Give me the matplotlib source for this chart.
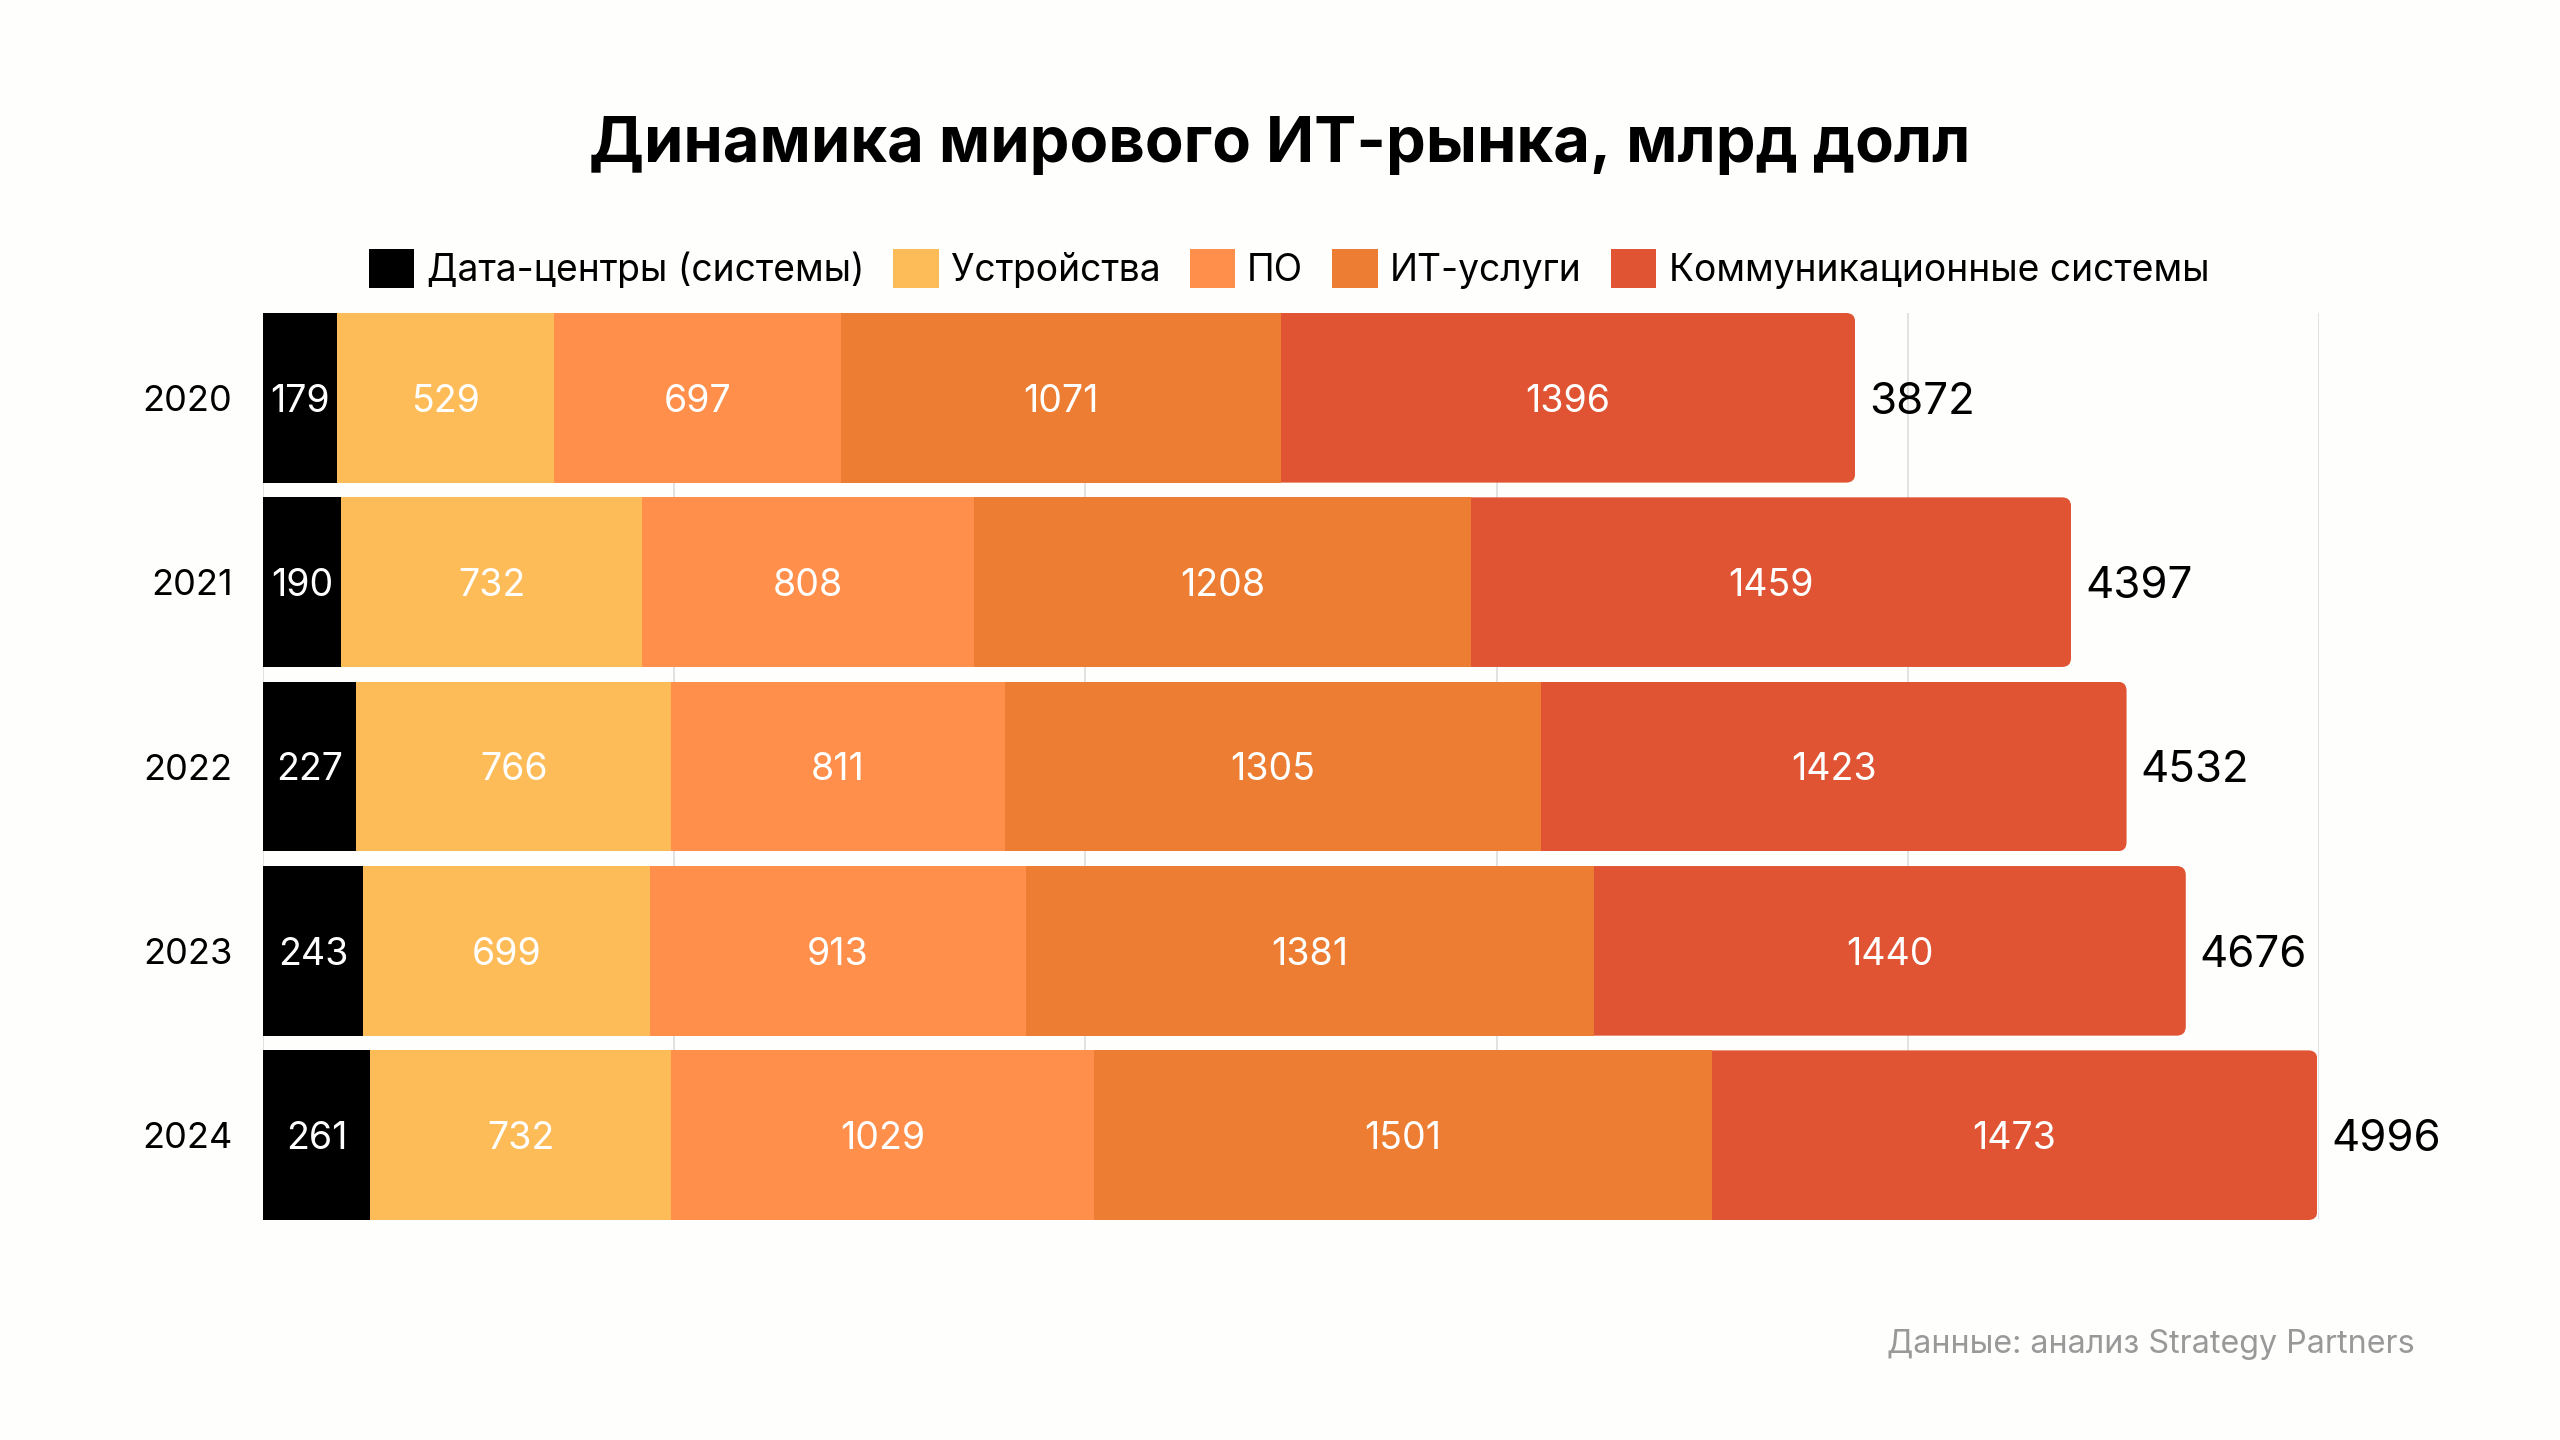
import matplotlib
matplotlib.use("Agg")
import matplotlib.pyplot as plt
from matplotlib.patches import FancyBboxPatch, Patch
import numpy as np

plt.rcParams['font.family'] = ['Inter', 'DejaVu Sans']

years = ["2020", "2021", "2022", "2023", "2024"]
series_names = ["Дата-центры (системы)", "Устройства", "ПО", "ИТ-услуги", "Коммуникационные системы"]
data_centers = [179, 190, 227, 243, 261]
devices = [529, 732, 766, 699, 732]
software = [697, 808, 811, 913, 1029]
it_services = [1071, 1208, 1305, 1381, 1501]
communications = [1396, 1459, 1423, 1440, 1473]
colors = ["#000000", "#FEBC59", "#FF8F4A", "#ED7D32", "#E05333"]

title = "Динамика мирового ИТ-рынка, млрд долл"
source = "Данные: анализ Strategy Partners"

W, H = 2560, 1440
bg = "#FEFEFD"
fig = plt.figure(figsize=(W / 100, H / 100), dpi=100, facecolor=bg)

ax_l, ax_r, ax_t, ax_b = 263, 2319, 313, 1220
ax = fig.add_axes([ax_l / W, 1 - ax_b / H, (ax_r - ax_l) / W, (ax_b - ax_t) / H])
ax.set_facecolor(bg)

bar_h = 0.92
y = np.arange(len(years))
xmax = 5000
ax.set_xlim(0, xmax)
ax.set_ylim(len(years) - 1 + bar_h / 2, -bar_h / 2)

all_series = [data_centers, devices, software, it_services, communications]
lefts = np.zeros(len(years))
containers = []
for vals, col in zip(all_series, colors):
    c = ax.barh(y, vals, left=lefts, height=bar_h, color=col, edgecolor='none', zorder=2)
    containers.append(c)
    texts = ax.bar_label(c, labels=[str(v) for v in vals], label_type='center',
                         color='white', fontsize=27, zorder=3)
    for t in texts:
        t.set_va('center_baseline')
    lefts = lefts + np.array(vals)
totals = lefts

# rounded right corners on the last segment
xu_per_px = xmax / (ax_r - ax_l)
yu_per_px = (len(years) - 1 + bar_h) / (ax_b - ax_t)
asp = yu_per_px / xu_per_px
r = 9 * xu_per_px
for i, rect in enumerate(containers[-1]):
    clip = FancyBboxPatch((0, y[i] - bar_h / 2), totals[i], bar_h,
                          boxstyle=f"round,pad=0,rounding_size={r}",
                          mutation_aspect=asp, transform=ax.transData)
    rect.set_clip_path(clip)

for i, t in enumerate(totals):
    ax.annotate(f"{int(t)}", xy=(t, y[i]), xytext=(10, 0), textcoords='offset points',
                ha='left', va='center_baseline', fontsize=31.5, color='black',
                annotation_clip=False)

ax.set_xticks(np.arange(0, xmax + 1, 1000))
ax.set_xticklabels([])
ax.grid(axis='x', color='#dddddd', linewidth=1.2, zorder=0)
ax.set_axisbelow(True)
ax.set_yticks(y)
ax.set_yticklabels(years, fontsize=26)
ax.tick_params(axis='both', length=0, pad=22)
for s in ax.spines.values():
    s.set_visible(False)

handles = [Patch(facecolor=c, edgecolor='none') for c in colors]
fig.legend(handles, series_names, loc='center', bbox_to_anchor=(1289 / W, 1 - 269 / H),
           ncol=5, frameon=False, fontsize=26.8, handlelength=1.22, handleheight=1.22,
           handletextpad=0.33, columnspacing=0.78, borderaxespad=0)

fig.text(0.5, 1 - 162 / H, title, ha='center', va='baseline', fontsize=45.5,
         fontweight='bold', color='black')
fig.text(2415 / W, 1 - 1353 / H, source, ha='right', va='baseline', fontsize=23.2,
         color='#999999')

fig.savefig("out.png", dpi=100, facecolor=bg)
